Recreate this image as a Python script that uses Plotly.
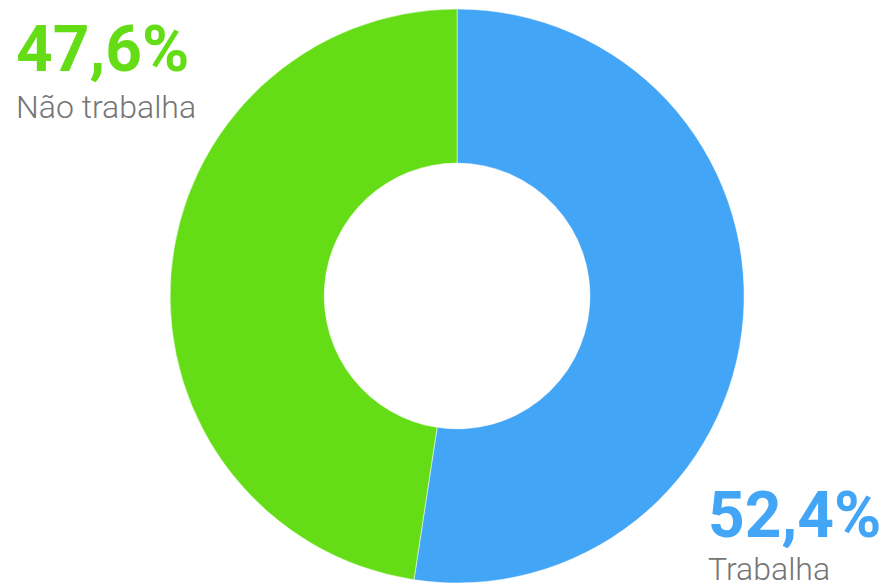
import plotly.graph_objects as go

labels = ["Trabalha", "Não trabalha"]
values = [52.4, 47.6]
colors = ["#42A5F5", "#64DD17"]
pct_text = ["52,4%", "47,6%"]

fig = go.Figure(go.Pie(
    labels=labels, values=values, hole=0.463, sort=False,
    direction="clockwise", rotation=0,
    marker=dict(colors=colors, line=dict(color="#FFFFFF", width=0.5)),
    textinfo="none", hoverinfo="label+percent", showlegend=False,
    domain=dict(x=[0.1, 0.933], y=[0.0068, 0.9847]),
))

font_fam = "Roboto"
fig.add_annotation(x=14/885, y=1-50/587, xref="paper", yref="paper", xanchor="left", yanchor="middle",
                   text="<b>%s</b>" % pct_text[1], showarrow=False,
                   font=dict(family=font_fam, size=64, color=colors[1]))
fig.add_annotation(x=14/885, y=1-107/587, xref="paper", yref="paper", xanchor="left", yanchor="middle",
                   text=labels[1], showarrow=False,
                   font=dict(family=font_fam, size=32, color="#757575", weight=300))
fig.add_annotation(x=706/885, y=1-515/587, xref="paper", yref="paper", xanchor="left", yanchor="middle",
                   text="<b>%s</b>" % pct_text[0], showarrow=False,
                   font=dict(family=font_fam, size=64, color=colors[0]))
fig.add_annotation(x=706/885, y=1-569/587, xref="paper", yref="paper", xanchor="left", yanchor="middle",
                   text=labels[0], showarrow=False,
                   font=dict(family=font_fam, size=32, color="#757575", weight=300))

fig.update_layout(width=885, height=587, margin=dict(l=0, r=0, t=0, b=0),
                  paper_bgcolor="white", plot_bgcolor="white")
fig.write_html("out.html", config={"displayModeBar": False},
               post_script="document.body.style.margin='0';")
